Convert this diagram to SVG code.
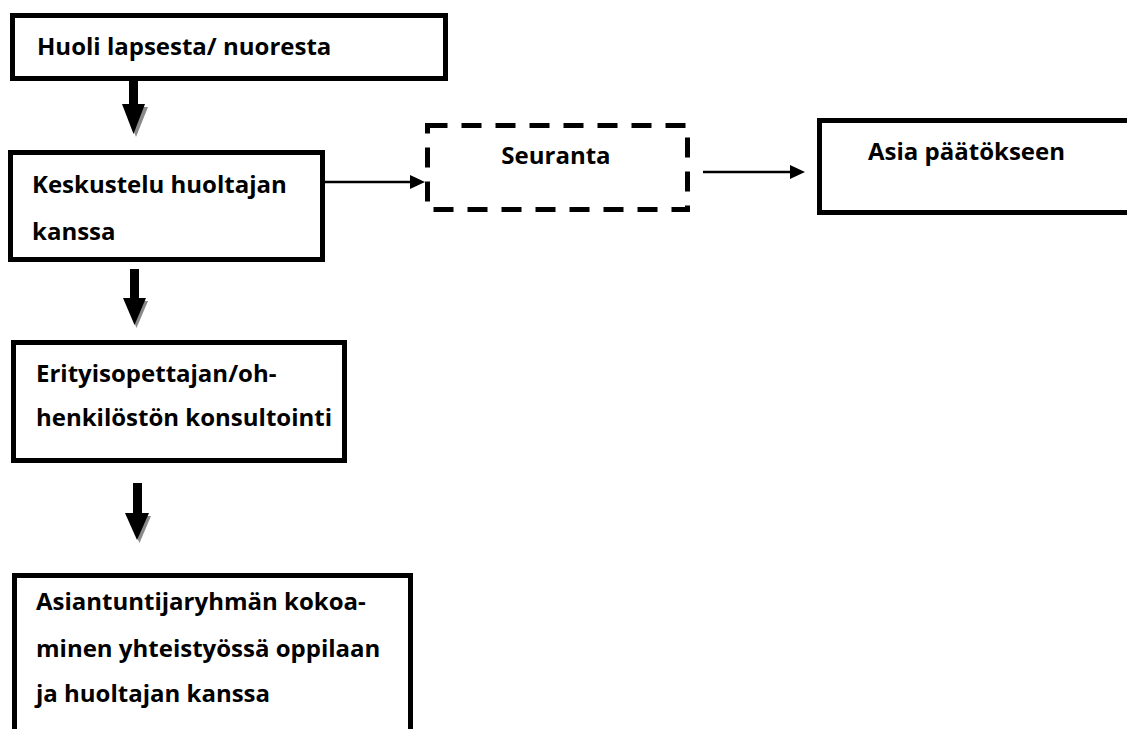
<svg xmlns="http://www.w3.org/2000/svg" width="1127" height="729" viewBox="0 0 1127 729">
  <defs>
    <style>
      .box { fill: #ffffff; stroke: #000000; stroke-width: 5; }
      .dash { fill: #ffffff; stroke: #000000; stroke-width: 5; stroke-dasharray: 20 14; }
      .lbl { font-family: "Open Sans", "Liberation Sans", sans-serif; font-weight: 700; font-size: 24px; fill: #000000; }
      .thin { stroke: #000000; stroke-width: 2.5; fill: none; }
      .shaft { fill: #000000; }
      .head { fill: #000000; }
      .shadow { fill: #8a8a8a; }
    </style>
    <marker id="tri" viewBox="0 0 10 10" refX="10" refY="5" markerWidth="6" markerHeight="6" markerUnits="strokeWidth" orient="auto">
      <path d="M0,0 L10,5 L0,10 Z" fill="#000000"/>
    </marker>
  </defs>
  <rect width="1127" height="729" fill="#ffffff"/>

  <g id="node-huoli">
    <rect class="box" x="12.5" y="15.5" width="433" height="63"/>
    <text class="lbl" x="37" y="55">Huoli lapsesta/ nuoresta</text>
  </g>

  <g id="node-keskustelu">
    <rect class="box" x="10.5" y="152.5" width="312" height="107"/>
    <text class="lbl" x="32" y="193">Keskustelu huoltajan</text>
    <text class="lbl" x="32" y="240">kanssa</text>
  </g>

  <g id="node-seuranta">
    <rect class="dash" x="427.5" y="125.5" width="260" height="84"/>
    <text class="lbl" x="556" y="164" text-anchor="middle">Seuranta</text>
  </g>

  <g id="node-asia">
    <rect class="box" x="819.5" y="120.5" width="400" height="92"/>
    <text class="lbl" x="868" y="160">Asia päätökseen</text>
  </g>

  <g id="node-erityis">
    <rect class="box" x="13.5" y="342.5" width="331" height="118"/>
    <text class="lbl" x="36" y="382">Erityisopettajan/oh-</text>
    <text class="lbl" x="36" y="426">henkilöstön konsultointi</text>
  </g>

  <g id="node-asiantuntija">
    <rect class="box" x="14.5" y="575.5" width="396" height="200"/>
    <text class="lbl" x="36" y="610">Asiantuntijaryhmän kokoa-</text>
    <text class="lbl" x="36" y="657">minen yhteistyössä oppilaan</text>
    <text class="lbl" x="36" y="702">ja huoltajan kanssa</text>
  </g>

  <g id="connectors">
    <!-- arrow 1 -->
    <polygon class="shadow" points="124,107 148,107 136,137"/>
    <rect class="shaft" x="129" y="80" width="9" height="26"/>
    <polygon class="head" points="122,104 145,104 133.5,134"/>
    <!-- arrow 2 -->
    <polygon class="shadow" points="125,301 148,301 136.5,328"/>
    <rect class="shaft" x="130" y="269" width="9" height="31"/>
    <polygon class="head" points="123,298 146,298 134.5,325"/>
    <!-- arrow 3 -->
    <polygon class="shadow" points="127,516 151,516 139.5,543"/>
    <rect class="shaft" x="133" y="483" width="9" height="31"/>
    <polygon class="head" points="125,513 149,513 137,540"/>
    <!-- horizontal connectors -->
    <line class="thin" x1="325" y1="182" x2="412" y2="182"/>
    <polygon class="head" points="410,175 425,182 410,189"/>
    <line class="thin" x1="703" y1="172" x2="792" y2="172"/>
    <polygon class="head" points="790,165 805,172 790,179"/>
  </g>
</svg>
